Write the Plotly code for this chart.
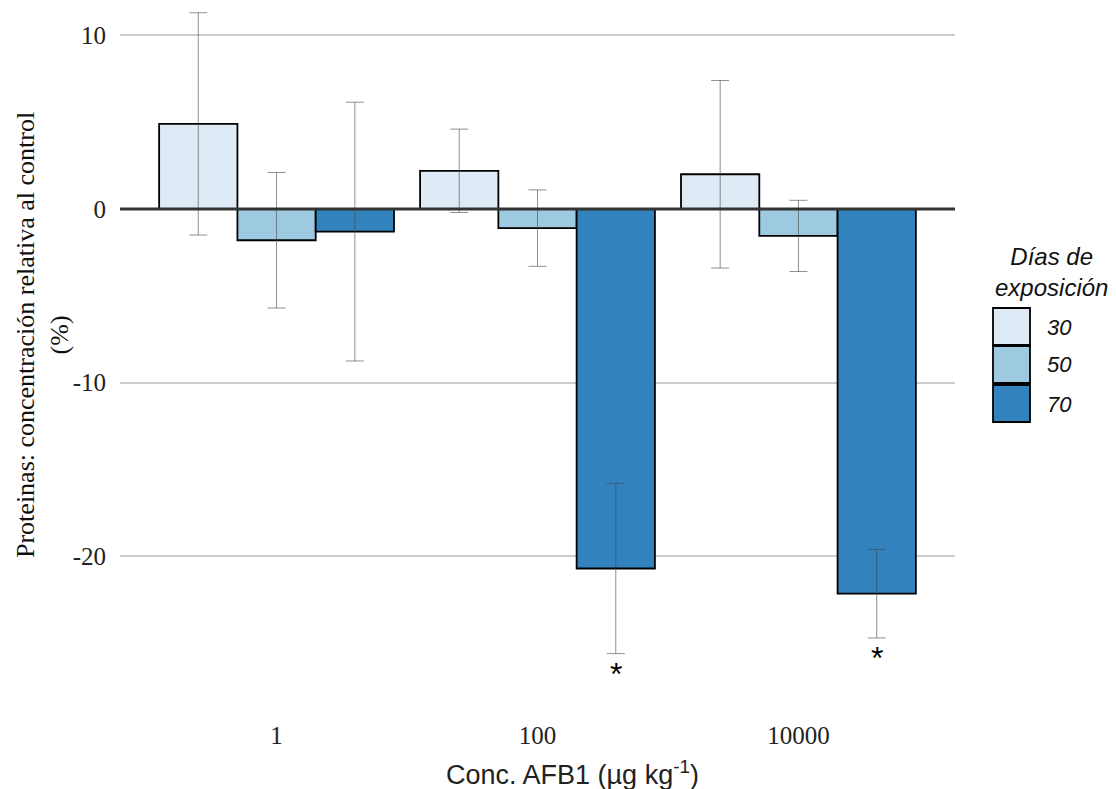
import plotly.graph_objects as go

# ---- data ----
conc = ["1", "100", "10000"]
dias = ["30", "50", "70"]
mean_30 = [4.9, 2.2, 2.0]
err_30 = [6.4, 2.4, 5.4]
mean_50 = [-1.8, -1.1, -1.55]
err_50 = [3.9, 2.2, 2.05]
mean_70 = [-1.3, -20.7, -22.15]
err_70 = [7.45, 4.9, 2.55]
signif_70 = [False, True, True]

colors = {"30": "#deebf7", "50": "#9ecae1", "70": "#3182bd"}
means = {"30": mean_30, "50": mean_50, "70": mean_70}
errs = {"30": err_30, "50": err_50, "70": err_70}

W, H = 1116, 789
L, R, T, B = 120, 161, 5, 84
pw, ph = W - L - R, H - T - B


def px2paper(x, y):
    return (x - L) / pw, (H - B - y) / ph


fig = go.Figure()
for d in dias:
    fig.add_trace(go.Bar(
        x=conc, y=means[d], name=d,
        marker=dict(color=colors[d], line=dict(color="black", width=1.8)),
        error_y=dict(type="data", array=errs[d], visible=True,
                     color="rgba(70,70,70,0.6)", thickness=1, width=9),
        showlegend=False,
    ))

# zero line above bars
fig.add_shape(type="line", xref="paper", yref="y", x0=0, x1=1, y0=0, y1=0,
              line=dict(color="#333333", width=3), layer="above")

annotations = []
# significance asterisks for 70-day bars (offset +0.3 within group)
for i, s in enumerate(signif_70):
    if s:
        annotations.append(dict(
            x=i + 0.3, y=mean_70[i] - err_70[i], xref="x", yref="y",
            text="*", showarrow=False, yanchor="top", xanchor="center",
            font=dict(family="Liberation Sans", size=32, color="black")))

# axis titles
ax, ay = px2paper(42, 335)
annotations.append(dict(
    x=ax, y=ay, xref="paper", yref="paper", textangle=-90,
    text="Proteinas: concentración relativa al control<br>(%)",
    showarrow=False, xanchor="center", yanchor="middle",
    font=dict(family="Liberation Serif", size=26, color="#111111")))
tx, ty = px2paper(572, 773)
annotations.append(dict(
    x=tx, y=ty, xref="paper", yref="paper",
    text="Conc. AFB1 (µg kg<sup>-1</sup>)",
    showarrow=False, xanchor="center", yanchor="middle",
    font=dict(family="Liberation Sans", size=27, color="#222222")))

# manual legend
lx, ly = px2paper(1051, 272)
annotations.append(dict(
    x=lx, y=ly, xref="paper", yref="paper", text="Días de<br>exposición",
    showarrow=False, xanchor="center", yanchor="middle",
    font=dict(family="Liberation Sans", size=24, color="#111111", style="italic")))
box_tops = [308, 346, 385]
for d, top in zip(dias, box_tops):
    x0, y1 = px2paper(993, top)
    x1, y0 = px2paper(1030, top + 37)
    fig.add_shape(type="rect", xref="paper", yref="paper",
                  x0=x0, x1=x1, y0=y0, y1=y1,
                  fillcolor=colors[d], line=dict(color="black", width=1.8))
    tx_, ty_ = px2paper(1045, top + 19)
    annotations.append(dict(
        x=tx_, y=ty_, xref="paper", yref="paper", text=d, showarrow=False,
        xanchor="left", yanchor="middle",
        font=dict(family="Liberation Sans", size=22, color="#111111", style="italic")))

fig.update_layout(
    width=W, height=H,
    margin=dict(l=L, r=R, t=T, b=B),
    plot_bgcolor="white", paper_bgcolor="white",
    barmode="group", bargap=0.1, bargroupgap=0,
    annotations=annotations,
    xaxis=dict(type="category", range=[-0.6, 2.6], showgrid=False, zeroline=False,
               showline=False, ticks="outside", ticklen=8, tickcolor="rgba(0,0,0,0)",
               tickfont=dict(family="Liberation Serif", size=25, color="#222222")),
    yaxis=dict(range=[-(H - B - 209) / 17.367, (209 - T) / 17.367],
               tickvals=[-20, -10, 0, 10], ticktext=["-20", "-10", "0", "10"],
               showgrid=True, gridcolor="#cccccc", gridwidth=1.5, zeroline=False,
               showline=False, ticks="outside", ticklen=8, tickcolor="rgba(0,0,0,0)",
               tickfont=dict(family="Liberation Serif", size=25, color="#222222")),
)

fig.write_html("out.html")
